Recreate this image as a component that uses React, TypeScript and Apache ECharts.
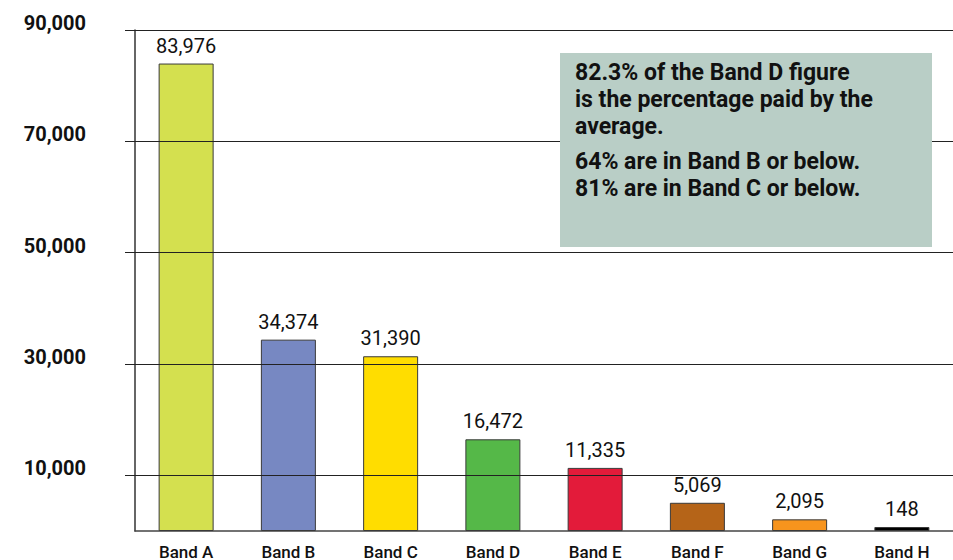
import React, { useEffect, useRef } from "react";
import * as echarts from "echarts";

const categories = ["Band A", "Band B", "Band C", "Band D", "Band E", "Band F", "Band G", "Band H"];
const values = [83976, 34374, 31390, 16472, 11335, 5069, 2095, 148];
const barColors = ["#d4e04f", "#7788c2", "#ffdd00", "#55b848", "#e31b3a", "#b56418", "#f7941d", "#000000"];
const yTicks = [10000, 30000, 50000, 70000, 90000];
const noteLines1 = ["82.3% of the Band D figure", "is the percentage paid by the", "average."];
const noteLines2 = ["64% are in Band B or below.", "81% are in Band C or below."];

const FONT = "Roboto, 'Noto Sans', sans-serif";

export default function App() {
  const ref = useRef<HTMLDivElement>(null);

  useEffect(() => {
    document.body.style.margin = "0";
    if (!ref.current) return;
    const chart = echarts.init(ref.current, undefined, { renderer: "svg" });
    const fmt = (v: number) => v.toLocaleString("en-US");
    chart.setOption({
      animation: false,
      backgroundColor: "#ffffff",
      textStyle: { fontFamily: FONT },
      grid: { left: 135, top: 30, width: 836, height: 501, containLabel: false },
      xAxis: {
        type: "category",
        data: categories,
        boundaryGap: true,
        axisLine: { show: true, lineStyle: { color: "#444", width: 1.5 } },
        axisTick: { show: false },
        axisLabel: { color: "#111", fontSize: 17, fontWeight: 500, margin: 12, fontFamily: FONT, interval: 0 },
        splitLine: { show: false },
      },
      yAxis: {
        type: "value",
        min: 0,
        max: 90000,
        interval: 10000,
        axisLine: { show: true, lineStyle: { color: "#333", width: 1.5 } },
        axisTick: { show: true, inside: false, length: 10, customValues: yTicks, lineStyle: { color: "#222", width: 1 } },
        axisLabel: {
          customValues: yTicks,
          formatter: (v: number) => (yTicks.indexOf(v) >= 0 ? fmt(v) : ""),
          color: "#111",
          fontSize: 20,
          fontWeight: "bold",
          margin: 49,
          verticalAlign: "bottom",
          lineHeight: 14,
          fontFamily: FONT,
        },
        splitLine: { show: false },
      },
      graphic: [
        {
          type: "rect",
          shape: { x: 560, y: 53, width: 372, height: 194 },
          style: { fill: "#b9cec6" },
          z: 10,
        },
        {
          type: "text",
          x: 575,
          y: 59,
          z: 11,
          style: {
            text: noteLines1.join("\n"),
            fill: "#111",
            font: `bold 23px ${FONT}`,
            lineHeight: 27,
          },
        },
        {
          type: "text",
          x: 575,
          y: 148,
          z: 11,
          style: {
            text: noteLines2.join("\n"),
            fill: "#111",
            font: `bold 23px ${FONT}`,
            lineHeight: 27,
          },
        },
      ],
      series: [
        {
          type: "line",
          data: [],
          z: 1,
          silent: true,
          markLine: {
            silent: true,
            symbol: "none",
            label: { show: false },
            lineStyle: { color: "#222", width: 1, type: "solid" },
            data: yTicks.map((v) => ({ yAxis: v })),
          },
        },
        {
          type: "bar",
          z: 3,
          barWidth: 55,
          barMinHeight: 4,
          data: values.map((v, i) => ({
            value: v,
            itemStyle: { color: barColors[i], borderColor: "#3a3a3a", borderWidth: 1 },
          })),
          label: {
            show: true,
            position: "top",
            distance: 8,
            color: "#111",
            fontSize: 20,
            fontFamily: FONT,
            formatter: (p: any) => fmt(p.value),
          },
        },
      ],
    });
    return () => chart.dispose();
  }, []);

  return <div ref={ref} style={{ width: 953, height: 560 }} />;
}
